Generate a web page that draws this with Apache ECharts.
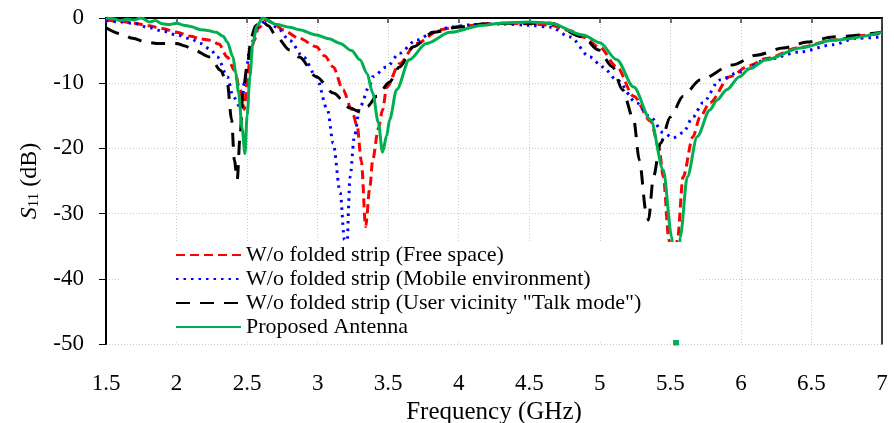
<!DOCTYPE html>
<html>
<head>
<meta charset="utf-8">
<script src="https://cdn.jsdelivr.net/npm/echarts@6/dist/echarts.min.js"></script>
<style>html,body{margin:0;padding:0;background:#fff}#c{width:894px;height:423px}</style>
</head>
<body>
<div id="c"></div>
<script>
const seriesNames = [
  'W/o folded strip (Free space)',
  'W/o folded strip (Mobile environment)',
  'W/o folded strip (User vicinity "Talk mode")',
  'Proposed Antenna'
];
const xTicks = { min: 1.5, max: 7, interval: 0.5 };
const yTicks = { min: -50, max: 0, interval: 10 };

const freeSpace = [
  [1.5,-0.3],[1.6,-0.5],[1.7,-0.8],[1.8,-1.2],[1.9,-1.6],[2.0,-2.2],[2.1,-2.8],[2.17,-3.2],[2.24,-3.4],[2.3,-4.0],
  [2.36,-6],[2.41,-8],[2.45,-11],[2.48,-14],[2.5,-10],[2.52,-6.4],[2.55,-3.5],[2.58,-1.5],[2.64,-0.3],[2.7,-1.0],
  [2.75,-1.8],[2.87,-3.1],[2.99,-4.4],[3.05,-5.8],[3.11,-7.5],[3.18,-11],[3.24,-14],[3.28,-16.5],[3.31,-22],[3.34,-32],
  [3.37,-26],[3.39,-21.8],[3.43,-17],[3.46,-14.1],[3.49,-10.6],[3.58,-7],[3.7,-3.9],[3.87,-1.8],[4.0,-1.3],[4.2,-0.9],
  [4.35,-0.8],[4.5,-0.9],[4.65,-1.1],[4.8,-2.0],[4.88,-2.9],[5.0,-4.5],[5.12,-7.5],[5.24,-12],[5.36,-15.8],[5.42,-20],
  [5.45,-24.4],[5.49,-34],[5.52,-40],[5.55,-34],[5.59,-24.4],[5.66,-18.2],[5.71,-15.2],[5.78,-13],[5.92,-9],[6.06,-7.3],
  [6.18,-6.2],[6.42,-4.5],[6.65,-3.4],[6.85,-2.7],[7.0,-2.3]
];
const mobileEnv = [
  [1.5,-0.4],[1.6,-0.6],[1.69,-0.8],[1.81,-1.5],[1.9,-2.0],[2.0,-2.6],[2.1,-3.2],[2.17,-3.9],[2.24,-4.8],[2.29,-6],
  [2.36,-9],[2.4,-12],[2.45,-13.6],[2.46,-14],[2.48,-10],[2.52,-4.9],[2.57,-1.4],[2.64,-0.3],[2.71,-1.4],[2.8,-3.4],
  [2.9,-6],[2.99,-9],[3.07,-14.1],[3.11,-19.2],[3.16,-26.8],[3.19,-34],[3.205,-36],[3.23,-24.4],[3.26,-18.2],[3.3,-13.6],
  [3.37,-10.3],[3.39,-9],[3.49,-7.5],[3.58,-5.4],[3.7,-3.4],[3.82,-2.2],[3.94,-1.4],[4.1,-1.0],[4.3,-0.9],[4.5,-1.1],
  [4.65,-1.4],[4.79,-2.9],[4.93,-6],[5.02,-7.5],[5.12,-9.5],[5.26,-13],[5.36,-15.2],[5.45,-17.6],[5.52,-18.4],[5.59,-17.6],
  [5.66,-15.2],[5.73,-13],[5.85,-9.5],[5.99,-8.3],[6.18,-6.4],[6.42,-5.2],[6.65,-4.1],[6.82,-3.1],[7.0,-2.9]
];
const talkMode = [
  [1.5,-1.5],[1.6,-2.4],[1.69,-3.1],[1.78,-3.7],[1.86,-3.9],[2.0,-3.9],[2.06,-4.3],[2.12,-4.9],[2.24,-6],[2.31,-8],
  [2.36,-10],[2.39,-15.6],[2.41,-21.8],[2.43,-24.8],[2.45,-18.2],[2.47,-11.5],[2.5,-7.5],[2.53,-2.9],[2.56,-1.2],[2.6,-0.3],
  [2.65,-1.2],[2.71,-2.9],[2.8,-4.9],[2.87,-6],[2.99,-9],[3.11,-11.5],[3.23,-13.8],[3.3,-14.4],[3.35,-13.6],[3.42,-12],
  [3.51,-9.8],[3.58,-7.5],[3.68,-4.4],[3.82,-2.2],[3.99,-1.4],[4.2,-0.9],[4.35,-0.8],[4.5,-0.8],[4.65,-0.8],[4.88,-2.9],
  [4.99,-4.9],[5.09,-7.5],[5.16,-11],[5.24,-15.6],[5.28,-21.8],[5.33,-30],[5.345,-31],[5.38,-24.4],[5.43,-19.2],[5.5,-15.2],
  [5.59,-12],[5.71,-9.5],[5.94,-7.2],[6.11,-5.7],[6.3,-4.6],[6.47,-3.7],[6.65,-2.9],[7.0,-2.2]
];
const proposed = [
  [1.5,0],[1.55,-0.1],[1.6,-0.4],[1.65,-0.2],[1.7,-0.3],[1.75,0],[1.81,-0.6],[1.85,-0.4],[1.9,-0.9],[1.95,-1.0],
  [2.0,-0.8],[2.05,-1.1],[2.1,-1.3],[2.17,-1.8],[2.22,-1.9],[2.28,-2.2],[2.33,-2.8],[2.36,-3.7],[2.4,-6],[2.42,-8.5],
  [2.44,-11.5],[2.465,-17],[2.485,-20.8],[2.5,-15],[2.52,-9],[2.54,-3.9],[2.57,-1.2],[2.61,0],[2.71,-1],
  [2.8,-1.4],[2.87,-1.8],[2.99,-2.6],[3.08,-3.2],[3.16,-3.9],[3.24,-5.0],[3.3,-6.4],[3.35,-8.5],[3.39,-11.5],[3.43,-16],
  [3.46,-20.6],[3.49,-18],[3.51,-15.6],[3.56,-11],[3.65,-6.4],[3.77,-3.9],[3.94,-2.2],[4.17,-1.1],[4.3,-0.8],[4.5,-0.6],
  [4.65,-0.8],[4.88,-2.6],[5.0,-3.8],[5.12,-6.4],[5.24,-10.6],[5.36,-15.6],[5.45,-23.3],[5.51,-33.6],[5.54,-56],[5.57,-33.6],
  [5.62,-24.4],[5.69,-18.2],[5.78,-14.1],[5.83,-12.6],[5.9,-11],[5.99,-9],[6.06,-7.8],[6.18,-6.4],[6.42,-4.6],[6.65,-3.4],
  [7.0,-2.2]
];

const font = '"Liberation Serif", "Times New Roman", serif';
const chart = echarts.init(document.getElementById('c'), null, { renderer: 'canvas' });
const mk = (name, data, color, type, width) => ({
  name, type: 'line', data, symbol: 'none', smooth: 0.3, smoothMonotone: 'x',
  xAxisIndex: 0, yAxisIndex: 0, clip: true, z: 2,
  lineStyle: { color, type, width }, itemStyle: { color }
});
chart.setOption({
  animation: false,
  backgroundColor: '#fff',
  grid: { left: 106, right: 12, top: 18, bottom: 79, containLabel: false, outerBoundsMode: 'none' },
  legend: {
    orient: 'vertical', left: 120, top: 242, zlevel: 1, z: 50,
    padding: [2, 58, 2, 55], backgroundColor: '#fff',
    itemWidth: 65, itemHeight: 10, itemGap: 2,
    itemStyle: { opacity: 0 },
    textStyle: { fontFamily: font, fontSize: 22, color: '#000', lineHeight: 22 },
    data: seriesNames
  },
  xAxis: [{
    type: 'value', position: 'bottom', min: xTicks.min, max: xTicks.max, interval: xTicks.interval,
    name: 'Frequency (GHz)', nameLocation: 'middle', nameGap: 49,
    nameTextStyle: { fontFamily: font, fontSize: 25, color: '#000' },
    axisLine: { show: true, lineStyle: { color: '#000', width: 1.5 } },
    axisTick: { show: false },
    axisLabel: { fontFamily: font, fontSize: 23, color: '#000', margin: 28 },
    splitLine: { show: true, lineStyle: { color: '#c8c8c8', type: [1, 2], width: 1 } }
  }, {
    type: 'value', position: 'top', min: xTicks.min, max: xTicks.max, interval: xTicks.interval,
    axisLine: { show: true, lineStyle: { color: '#000', width: 2 } },
    axisTick: { show: true, inside: true, length: 5, lineStyle: { color: '#444', width: 1.5 } },
    axisLabel: { show: false }, splitLine: { show: false }
  }],
  yAxis: [{
    type: 'value', position: 'left', min: yTicks.min, max: yTicks.max, interval: yTicks.interval,
    name: '{i|S}{sub|11} (dB)', nameLocation: 'middle', nameGap: 64, nameRotate: 90,
    nameTextStyle: {
      fontFamily: font, fontSize: 24, color: '#000',
      rich: {
        i: { fontFamily: font, fontSize: 24, fontStyle: 'italic', color: '#000' },
        sub: { fontFamily: font, fontSize: 15, color: '#000', verticalAlign: 'bottom', padding: [10, 0, 0, 0] }
      }
    },
    axisLine: { show: true, lineStyle: { color: '#000', width: 2 } },
    axisTick: { show: true, inside: false, length: 7, lineStyle: { color: '#000', width: 1 } },
    axisLabel: { fontFamily: font, fontSize: 23, color: '#000', margin: 22 },
    splitLine: { show: true, lineStyle: { color: '#c8c8c8', type: [1, 2], width: 1 } }
  }, {
    type: 'value', position: 'right', min: yTicks.min, max: yTicks.max, interval: yTicks.interval,
    axisLine: { show: true, lineStyle: { color: '#000', width: 1.5 } },
    axisTick: { show: false }, axisLabel: { show: false }, splitLine: { show: false }
  }],
  series: [
    mk(seriesNames[0], freeSpace, '#ff0000', [9, 5], 3),
    mk(seriesNames[1], mobileEnv, '#0000ff', [2.5, 5], 3),
    mk(seriesNames[2], talkMode, '#000000', [14, 10], 3),
    mk(seriesNames[3], proposed, '#00b050', 'solid', 3)
  ]
});
</script>
</body>
</html>
